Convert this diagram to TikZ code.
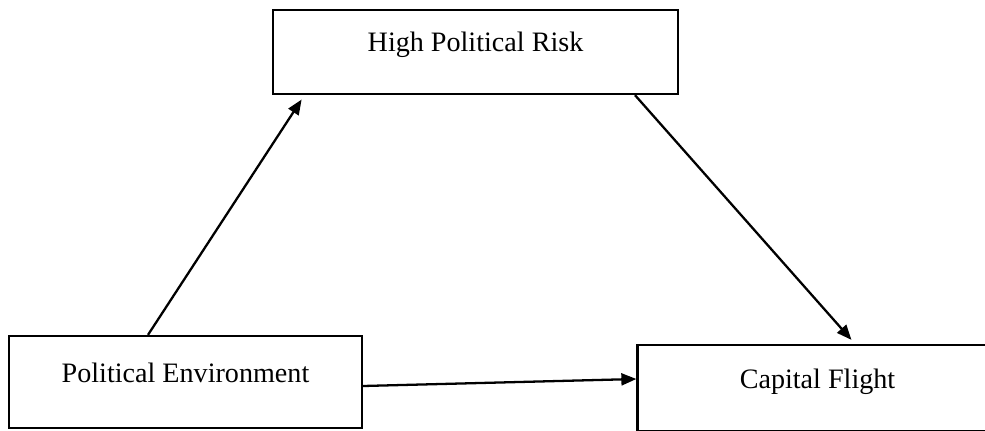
\documentclass[tikz,border=0pt]{standalone}
\usepackage{fontspec}
\setmainfont{Liberation Serif}
\usetikzlibrary{positioning, arrows.meta}

\begin{document}
\begin{tikzpicture}[
  factor/.style={draw, line width=1.3pt, inner sep=0pt, font=\fontsize{16}{19}\selectfont, text height=0.35cm, text depth=0.35cm},
  link/.style={-{Triangle[length=3mm, width=2.4mm]}, line width=1.3pt}
]
\clip (0,0) rectangle (19.7,8.6);

\node[factor, minimum width=7.2cm, minimum height=1.72cm] (cf) at (16.35,0.84) {Capital Flight};
\node[factor, minimum width=8.1cm, minimum height=1.68cm] (hpr) at (9.51,7.56) {High Political Risk};
\node[factor, minimum width=7.06cm, minimum height=1.84cm] (pe) at (3.71,0.96) {Political Environment};

\draw[link, shorten >=3pt] ([xshift=-0.75cm]pe.north) -- ([xshift=-3.42cm]hpr.south);
\draw[link, shorten >=3pt] ([xshift=3.19cm]hpr.south) -- ([xshift=0.75cm]cf.north);
\draw[link] ([yshift=-0.08cm]pe.east) -- ([yshift=0.18cm]cf.west);
\end{tikzpicture}
\end{document}
